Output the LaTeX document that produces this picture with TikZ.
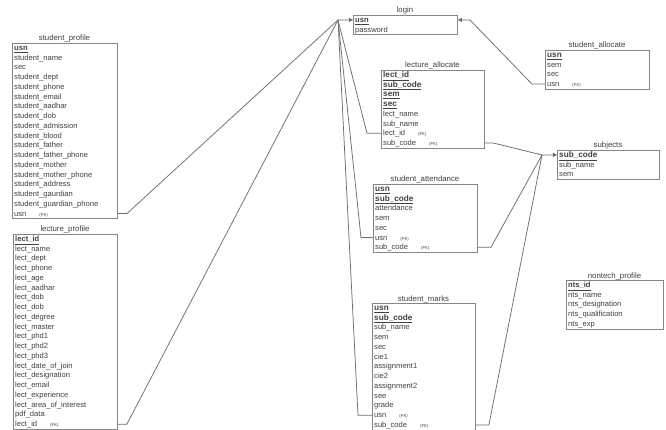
\documentclass[tikz,border=0pt]{standalone}
\usepackage{fontspec}
\setmainfont{Liberation Sans}
\usetikzlibrary{arrows.meta}
\definecolor{txtgray}{HTML}{404040}
\definecolor{boxgray}{HTML}{858585}
\definecolor{linegray}{HTML}{6E6E6E}
\def\errh{9.75}
\newcommand{\erkey}[1]{\underline{\textbf{#1}}}
\newcommand{\erbkey}[1]{{\fontsize{8.2}{9}\selectfont\underline{\textbf{#1}}}}
\newcommand{\erfk}{\hspace{13pt}{\fontsize{4.3}{5}\selectfont (FK)}}
\newcommand{\ertable}[7]{%
  \pgfmathsetmacro\erw{#5-#3}%
  \pgfmathsetmacro\erh{#6*\errh}%
  \node[tbox, minimum width=\erw pt, minimum height=\erh pt] (#1) at (#3,#4) {};
  \node[ttitle] (#1-t) at ({(#3+#5)/2},{#4-2}) {#2};
  \foreach \rowtext [count=\i] in {#7}
    \node[trow] (#1-\i) at ({#3+2},{#4+(\i-0.5)*\errh}) {\rowtext};
}
\tikzset{
  tbox/.style={draw=boxgray, line width=0.9pt, anchor=north west, inner sep=0pt},
  ttitle/.style={anchor=base, inner sep=0pt, text=txtgray, font=\fontsize{7.8}{9}\selectfont},
  trow/.style={anchor=west, inner sep=0pt, text=txtgray, text height=6.1pt, text depth=1.1pt,
    font=\fontsize{7.6}{9}\selectfont},
  conn/.style={draw=linegray, line width=0.75pt},
  arr/.style={-{Triangle[length=4pt,width=4pt]}}
}
\begin{document}
\begin{tikzpicture}[x=1pt,y=-1pt]
\useasboundingbox (0,0) rectangle (666,430);
\fill[white] (0,0) rectangle (666,430);
\ertable{sp}{student\_profile}{12}{43}{117}{18}{\erkey{usn},student\_name,sec,student\_dept,student\_phone,student\_email,student\_aadhar,student\_dob,student\_admission,student\_blood,student\_father,student\_father\_phone,student\_mother,student\_mother\_phone,student\_address,student\_gaurdian,student\_guardian\_phone,usn\erfk}
\ertable{lp}{lecture\_profile}{13}{234}{117}{20}{\erkey{lect\_id},lect\_name,lect\_dept,lect\_phone,lect\_age,lect\_aadhar,lect\_dob,lect\_dob,lect\_degree,lect\_master,lect\_phd1,lect\_phd2,lect\_phd3,lect\_date\_of\_join,lect\_designation,lect\_email,lect\_experience,lect\_area\_of\_interest,pdf\_data,lect\_id\erfk}
\ertable{lg}{login}{353}{15}{457}{2}{\erkey{usn},password}
\ertable{la}{lecture\_allocate}{381}{70}{484}{8}{\erbkey{lect\_id},\erbkey{sub\_code},\erbkey{sem},\erbkey{sec},lect\_name,sub\_name,lect\_id\erfk,sub\_code\erfk}
\ertable{sa}{student\_attendance}{373}{184}{477}{7}{\erbkey{usn},\erbkey{sub\_code},attendance,sem,sec,usn\erfk,sub\_code\erfk}
\ertable{sm}{student\_marks}{372}{303}{475}{13}{\erbkey{usn},\erbkey{sub\_code},sub\_name,sem,sec,cie1,assignment1,cie2,assignment2,see,grade,usn\erfk,sub\_code\erfk}
\ertable{sal}{student\_allocate}{545}{50}{649}{4}{\erbkey{usn},sem,sec,usn\erfk}
\ertable{sub}{subjects}{557}{150}{659}{3}{\erbkey{sub\_code},sub\_name,sem}
\ertable{nt}{nontech\_profile}{566}{280}{663}{5}{\erkey{nts\_id},nts\_name,nts\_designation,nts\_qualification,nts\_exp}
\coordinate (hubL) at (338,20);
\coordinate (hubR) at (470,20);
\coordinate (hubS) at (542,155);
\draw[conn] (sp.east |- sp-18) -- ++(9,0) -- (hubL);
\draw[conn] (lp.east |- lp-20) -- ++(9,0) -- (hubL);
\draw[conn] (la.west |- la-7) -- ++(-14,0) -- (hubL);
\draw[conn] (sa.west |- sa-6) -- ++(-12,0) -- (hubL);
\draw[conn] (sm.west |- sm-12) -- ++(-14,0) -- (hubL);
\draw[conn,arr] (hubL) -- (lg.west |- lg-1);
\draw[conn] (sal.west |- sal-4) -- ++(-13,0) -- (hubR);
\draw[conn,arr] (hubR) -- (lg.east |- lg-1);
\draw[conn] (la.east |- la-8) -- ++(9,0) -- (hubS);
\draw[conn] (sa.east |- sa-7) -- ++(13,0) -- (hubS);
\draw[conn] (sm.east |- sm-13) -- ++(13,0) -- (hubS);
\draw[conn,arr] (hubS) -- (sub.west |- sub-1);
\end{tikzpicture}
\end{document}
